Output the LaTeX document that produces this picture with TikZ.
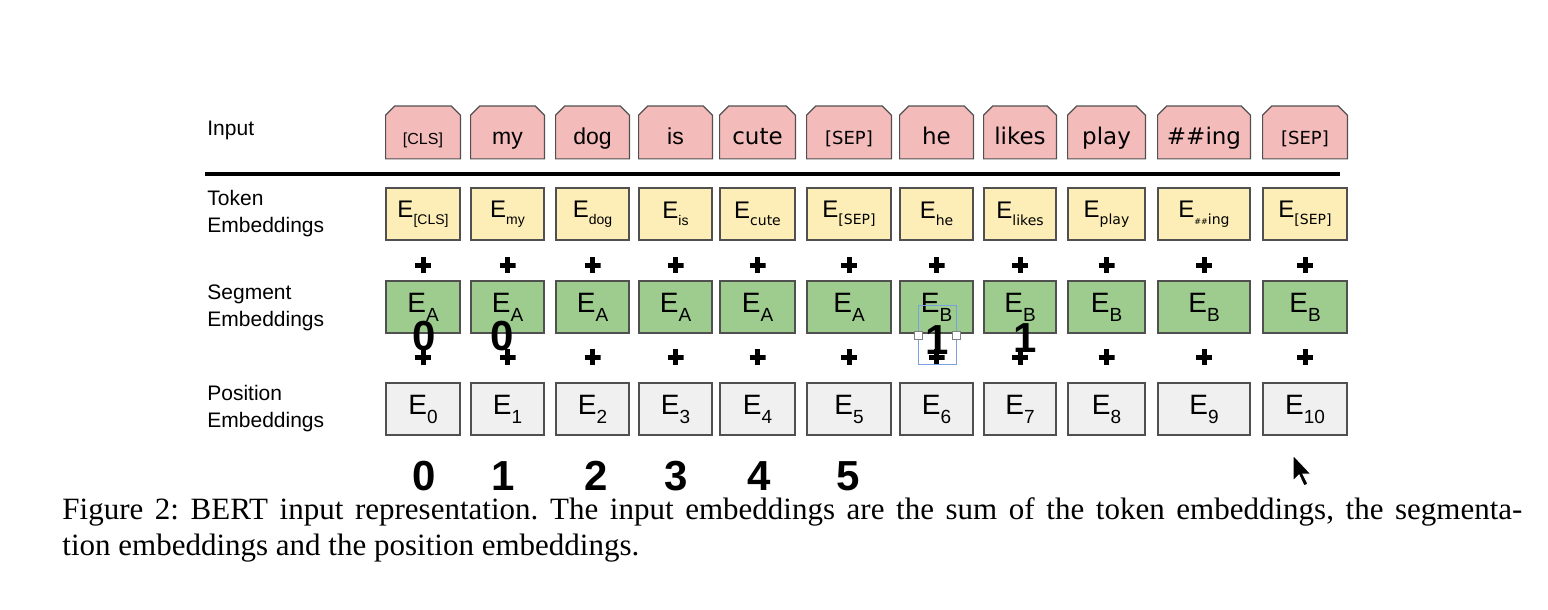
\documentclass[tikz,border=0pt]{standalone}
\usepackage{fontspec}
\setmainfont{Liberation Sans}
\newfontfamily\dvs{DejaVu Sans}
\newfontfamily\capfont{Liberation Serif}
\usetikzlibrary{backgrounds}
\definecolor{inpink}{RGB}{244,187,187}
\definecolor{tokyellow}{RGB}{252,238,182}
\definecolor{seggreen}{RGB}{157,204,142}
\definecolor{posgray}{RGB}{240,240,240}
\definecolor{boxline}{RGB}{80,80,80}
\definecolor{selblue}{RGB}{120,160,225}
% E with a lowered index, small and big
\newcommand{\smallE}[1]{{\fontsize{12}{12}\selectfont E\raisebox{-3.5pt}{\fontsize{7}{7}\selectfont #1}}}
\newcommand{\bigE}[1]{{\fontsize{14}{14}\selectfont E\raisebox{-4.5pt}{\fontsize{9.5}{9.5}\selectfont #1}}}
\begin{document}
\begin{tikzpicture}[x=0.5pt,y=-0.5pt,
  box/.style={draw=boxline,line width=0.6pt,inner sep=0pt,minimum height=26pt},
  inbox/.style={inner sep=0pt,minimum height=26pt,text height=12.5pt,text depth=0pt,font=\fontsize{11.5}{12}\selectfont},
  inline/.style={draw=boxline,line width=0.6pt,fill=inpink},
  tokbox/.style={box,fill=tokyellow},
  segbox/.style={box,fill=seggreen},
  posbox/.style={box,fill=posgray},
  plus/.style={minimum size=8pt,inner sep=0pt,path picture={\draw[line width=2.5pt] (path picture bounding box.north) -- (path picture bounding box.south) (path picture bounding box.west) -- (path picture bounding box.east);}},
  lbl/.style={anchor=west,align=left,inner sep=0pt,font=\fontsize{10.5}{13.5}\selectfont},
  scribble/.style={inner sep=0pt,font=\fontsize{21}{21}\selectfont\bfseries}
]
\useasboundingbox (0,0) rectangle (1548,610);
\begin{scope}[on background layer]
  \fill[white] (0,0) rectangle (1548,610);
\end{scope}

\node[lbl] (lin) at (207,130) {Input};
\node[lbl] (ltok) at (207,214) {Token\\Embeddings};
\node[lbl] (lseg) at (207,308) {Segment\\Embeddings};
\node[lbl] (lpos) at (207,409) {Position\\Embeddings};

\coordinate (rl) at (205,174);
\coordinate (rr) at (1340,174);
\draw[line width=1.6pt] (rl) -- (rr);

\foreach \i/\cx/\w/\tk/\ts/\sg in {
  1/423/74/{\fontsize{8}{8}\selectfont[CLS]}/{[CLS]}/A,
  2/507.5/73/my/my/A,
  3/592.5/73/dog/dog/A,
  4/675.5/73/is/is/A,
  5/757.5/75/{\dvs cute}/{\dvs cute}/A,
  6/849/84/{\dvs\fontsize{9}{9}\selectfont[SEP]}/{\dvs[SEP]}/A,
  7/936.5/73/{\dvs he}/{\dvs he}/B,
  8/1020/72/{\dvs likes}/{\dvs likes}/B,
  9/1106.5/77/{\dvs play}/{\dvs play}/B,
  10/1204/92/{\dvs\#\#ing}/{\dvs{\fontsize{4}{4}\selectfont\#\#}ing}/B,
  11/1305/84/{\dvs\fontsize{9}{9}\selectfont[SEP]}/{\dvs[SEP]}/B}
{
  \pgfmathtruncatemacro\k{\i-1}
  \node[inbox,minimum width=\w*.5pt] (in\i) at (\cx,132.5) {\tk};
  \begin{scope}[on background layer]
    \draw[inline] (in\i.south west) -- ([yshift=-4.5pt]in\i.north west) -- ([xshift=4.5pt]in\i.north west)
      -- ([xshift=-4.5pt]in\i.north east) -- ([yshift=-4.5pt]in\i.north east) -- (in\i.south east) -- cycle;
  \end{scope}
  \node[tokbox,minimum width=\w*.5pt] (tok\i) at (\cx,214) {\smallE{\ts}};
  \node[plus] (pa\i) at (\cx,265) {};
  \node[segbox,minimum width=\w*.5pt] (seg\i) at (\cx,307) {\bigE{\sg}};
  \node[plus] (pb\i) at (\cx,357) {};
  \node[posbox,minimum width=\w*.5pt] (pos\i) at (\cx,409) {\bigE{\k}};
}

% hand written marks
\node[scribble] (za) at (424,336) {0};
\node[scribble] (zb) at (502,336) {0};
\node[scribble] (oa) at (937,340) {1};
\node[scribble] (ob) at (1025,338) {1};
\foreach \n/\cx in {0/424,1/503,2/596,3/676,4/759,5/848}
  \node[scribble] (num\n) at (\cx,476) {\n};

% selection and cursor
\draw[selblue,line width=0.5pt] (918,305) rectangle (956,364);
\draw[gray,fill=white,line width=0.4pt] (914,331) rectangle (922,339) (952,331) rectangle (960,339);
\filldraw[fill=black,draw=white,line width=0.5pt] (1293,455) -- ++(0,26) -- ++(6,-6) -- ++(5,11) -- ++(4,-2) -- ++(-5,-10) -- ++(8,0) -- cycle;

\node[anchor=north west,text width=730pt,align=justify,inner sep=0pt,font=\capfont\fontsize{15.5}{18}\selectfont\frenchspacing] (cap) at (62,497) {Figure 2: BERT input representation. The input embeddings are the sum of the token embeddings, the segmenta-\linebreak tion embeddings and the position embeddings.};
\end{tikzpicture}
\end{document}
